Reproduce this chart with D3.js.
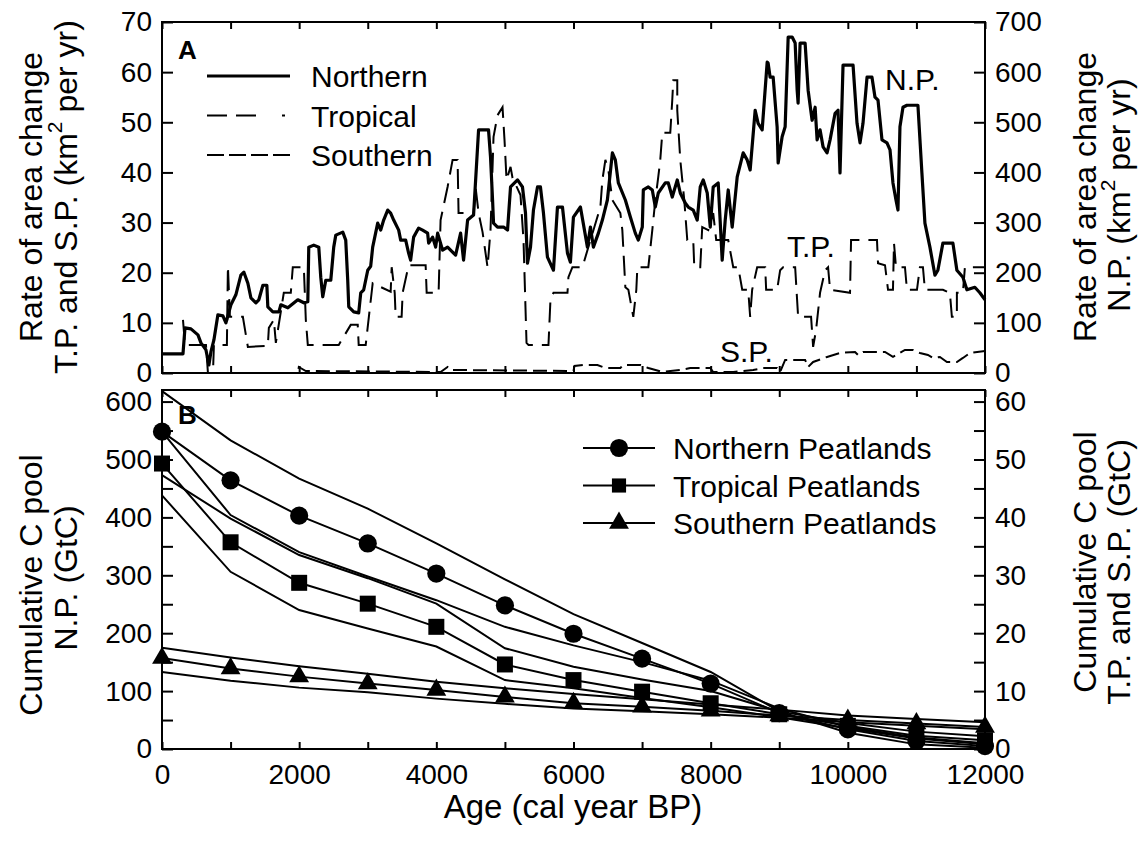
<!DOCTYPE html>
<html>
<head>
<meta charset="utf-8">
<script src="https://cdn.jsdelivr.net/npm/d3@7"></script>
<style>
  body { margin: 0; background: #fff; }
  svg { font-family: "Liberation Sans", Arial, sans-serif; }
  .tick text { font-size: 28px; fill: #000; }
  .tick line { stroke: #000; stroke-width: 2; }
</style>
</head>
<body>
<svg id="chart" width="1146" height="848"></svg>
<script>
// ---- panel A: rate of area change, [cal yr BP, value] ----
// northern on the right axis (km2 per yr, 0-700)
const northernRate = [
  [0,38],[306,38],[335,90],[422,88],[524,76],[568,60],[641,46],[684,16],[713,42],[757,66],
  [815,116],[888,114],[932,100],[1005,136],[1077,156],[1150,195],[1194,201],[1252,179],[1296,150],[1369,140],
  [1412,146],[1471,175],[1529,175],[1543,132],[1616,122],[1704,122],[1733,136],[1835,130],[1980,146],[2068,140],
  [2126,142],[2140,251],[2213,255],[2286,251],[2315,191],[2344,152],[2388,185],[2461,185],[2504,251],[2534,275],
  [2636,281],[2679,265],[2708,185],[2723,132],[2796,122],[2868,120],[2898,160],[2941,166],[3000,205],[3043,213],
  [3072,251],[3145,299],[3189,285],[3232,305],[3291,325],[3334,319],[3378,305],[3451,285],[3480,265],[3553,265],
  [3596,239],[3625,225],[3669,271],[3742,289],[3800,285],[3873,279],[3888,259],[3946,271],[3990,251],[4019,279],
  [4091,245],[4164,251],[4281,235],[4354,279],[4397,225],[4456,305],[4543,315],[4616,485],[4761,485],[4790,431],
  [4820,345],[4834,299],[4892,291],[4980,291],[5038,285],[5082,371],[5184,385],[5256,371],[5300,319],[5329,219],
  [5373,251],[5416,325],[5475,371],[5518,371],[5562,319],[5620,231],[5708,205],[5766,331],[5839,331],[5912,239],
  [5955,221],[5999,311],[6101,331],[6203,251],[6247,291],[6290,251],[6363,279],[6421,305],[6494,345],[6567,439],
  [6610,425],[6654,379],[6756,345],[6829,311],[6901,279],[6945,265],[7003,291],[7018,365],[7091,371],[7149,365],
  [7193,331],[7236,359],[7338,379],[7382,379],[7440,351],[7513,385],[7557,359],[7629,339],[7673,331],[7746,325],
  [7804,305],[7848,371],[7892,385],[7950,359],[7994,291],[8037,371],[8110,379],[8168,225],[8212,305],[8256,365],
  [8314,291],[8387,391],[8474,439],[8532,425],[8576,405],[8649,524],[8692,498],[8751,485],[8824,620],[8838,618],
  [8867,590],[8911,590],[8969,491],[8984,419],[9042,471],[9086,491],[9130,670],[9188,670],[9232,658],[9261,564],
  [9275,538],[9304,658],[9377,658],[9421,564],[9479,504],[9523,530],[9552,465],[9595,485],[9639,451],[9697,439],
  [9741,465],[9814,518],[9857,524],[9886,399],[9930,614],[10076,614],[10134,498],[10178,459],[10221,498],[10280,590],
  [10352,590],[10396,550],[10440,544],[10498,465],[10571,459],[10615,445],[10658,379],[10702,345],[10731,325],[10760,491],
  [10804,530],[10862,534],[11022,534],[11080,399],[11124,299],[11197,251],[11270,195],[11313,205],[11386,259],[11532,259],
  [11590,205],[11678,191],[11736,166],[11852,171],[11925,160],[12000,146]
];
// tropical and southern on the left axis (km2 per yr, 0-70)
const tropicalRate = [
  [306,10.6],[335,5.6],[641,5.6],[670,0],[743,0],[757,5.6],[946,5.6],[961,21.3],[990,11.2],[1179,11.2],
  [1252,5.2],[1543,5.4],[1558,9.0],[1631,10.6],[1660,6.0],[1776,16.0],[1878,16.0],[1907,21.1],[2068,21.1],[2097,10.6],
  [2126,5.6],[2577,5.6],[2752,9.6],[2854,9.6],[2868,5.6],[2970,5.6],[3072,17.9],[3334,16.2],[3349,21.1],[3393,16.0],
  [3407,11.2],[3494,11.2],[3509,16.0],[3596,21.5],[3844,21.5],[3859,16.0],[4033,16.0],[4062,30.5],[4164,37.1],[4237,42.5],
  [4310,42.5],[4324,31.9],[4543,31.9],[4572,37.1],[4616,31.9],[4674,28.1],[4747,21.1],[4790,28.5],[4834,47.1],[4892,51.4],
  [4965,53.0],[4994,46.5],[5024,38.5],[5082,41.1],[5111,38.9],[5227,35.5],[5271,26.5],[5315,6.0],[5344,5.6],[5635,5.6],
  [5664,14.6],[5708,16.0],[5912,16.0],[5926,19.1],[5984,21.1],[6130,21.1],[6247,26.5],[6392,33.1],[6421,38.5],[6465,42.5],
  [6508,40.5],[6567,34.5],[6683,31.9],[6712,28.5],[6756,17.1],[6800,16.6],[6872,11.2],[6916,16.6],[6931,21.1],[7091,21.1],
  [7149,28.5],[7193,34.5],[7236,39.1],[7265,42.5],[7295,47.9],[7411,47.9],[7440,54.4],[7455,58.4],[7513,58.4],[7513,52.4],
  [7557,42.5],[7615,34.5],[7659,26.5],[7746,26.5],[7761,21.1],[7848,21.1],[7877,29.1],[7965,28.5],[8037,31.9],[8081,26.5],
  [8256,26.5],[8329,21.1],[8402,21.1],[8460,16.6],[8547,16.6],[8576,11.2],[8605,16.6],[8678,21.1],[8795,21.1],[8809,16.6],
  [8969,16.6],[9013,20.5],[9057,21.1],[9232,21.1],[9275,11.2],[9464,11.2],[9494,5.2],[9537,8.6],[9595,16.0],[9668,20.5],
  [9712,21.1],[9741,16.6],[10032,16.0],[10047,26.5],[10425,26.5],[10440,21.9],[10542,21.5],[10586,16.6],[10658,16.6],[10673,25.9],
  [10702,21.1],[10833,21.1],[10862,16.6],[11008,16.6],[11051,21.1],[11095,21.1],[11124,16.6],[11386,16.6],[11488,16.0],[11517,11.2],
  [11590,11.2],[11590,16.0],[11678,16.0],[11707,21.1],[12000,21.1]
];
const southernRate = [
  [0,0],[1980,0],[1995,1.2],[2097,0.4],[4062,0.2],[4164,1.2],[4208,0.6],[6000,0.4],[6014,1.4],[6145,1.6],
  [6349,1.6],[6465,1.0],[6683,1.0],[6727,1.6],[6975,1.6],[7091,1.0],[7295,0.2],[7557,0.6],[7702,1.0],[7994,1.0],
  [8037,0.2],[8329,0.2],[8620,0.6],[8765,1.0],[8969,1.0],[9013,0.2],[9086,2.6],[9377,2.6],[9421,1.2],[9494,2.2],
  [9697,3.2],[9886,4.0],[10105,4.2],[10148,3.6],[10221,4.2],[10542,4.2],[10658,3.2],[10833,4.6],[10949,4.6],[11051,4.0],
  [11168,3.6],[11241,3.0],[11343,3.2],[11445,2.2],[11590,2.2],[11678,3.0],[11780,4.0],[12000,4.4]
];

// ---- panel B: cumulative C pool ----
const poolYears = [0,1000,2000,3000,4000,5000,6000,7000,8000,9000,10000,11000,12000];
// northern, GtC, left axis
const northernPool      = [548,464,403,355,303,248,199,156,113,62,34,14,5];
const northernPoolUpper = [618,533,467,415,355,293,233,183,133,65,28,8,2];
const northernPoolLower = [548,404,340,298,257,211,179,150,118,70,38,20,10];
// tropical and southern, GtC, right axis
const tropicalPool      = [49.3,35.7,28.7,25.1,21.1,14.6,11.9,9.9,7.9,6.0,4.0,2.3,1.5];
const tropicalPoolUpper = [47.3,39.8,33.5,29.5,25.1,17.4,14.2,12.0,10.0,6.5,4.5,3.0,2.2];
const tropicalPoolLower = [43.8,30.6,24.0,20.8,17.7,11.9,10.5,8.8,7.2,5.5,3.6,1.8,0.8];
const southernPool      = [15.7,13.9,12.5,11.3,10.2,9.0,7.9,7.3,6.6,5.8,5.0,4.4,3.8];
const southernPoolUpper = [17.5,15.8,14.3,13.0,11.6,10.5,9.5,8.6,7.7,6.8,5.8,5.2,4.6];
const southernPoolLower = [13.3,11.8,10.6,9.8,8.7,7.8,7.0,6.5,6.0,5.4,4.6,4.0,3.4];

const yearTicks = [0,1000,2000,3000,4000,5000,6000,7000,8000,9000,10000,11000,12000];
const rateTicks = [0,10,20,30,40,50,60,70];
const poolTicks = [0,50,100,150,200,250,300,350,400,450,500,550,600];

const svg = d3.select('#chart');
const left = 162, right = 985;
const panelA = {top: 22, bottom: 373};
const panelB = {top: 390, bottom: 749};

const x = d3.scaleLinear().domain([0, 12000]).range([left, right]);
const yRateL = d3.scaleLinear().domain([0, 70]).range([panelA.bottom, panelA.top]);
const yRateR = d3.scaleLinear().domain([0, 700]).range([panelA.bottom, panelA.top]);
const yPoolL = d3.scaleLinear().domain([0, 620]).range([panelB.bottom, panelB.top]);
const yPoolR = d3.scaleLinear().domain([0, 62]).range([panelB.bottom, panelB.top]);

function axes(p, yL, yR, leftTicks, rightTicks, leftFmt, rightFmt, xLabels) {
  // bottom
  svg.append('g').attr('transform', `translate(0,${p.bottom})`)
    .call(d3.axisBottom(x).tickValues(yearTicks).tickSizeInner(-7).tickSizeOuter(0).tickPadding(15)
      .tickFormat(d => xLabels && d % 2000 === 0 ? d : ''))
    .call(g => g.select('.domain').remove());
  // top
  svg.append('g').attr('transform', `translate(0,${p.top})`)
    .call(d3.axisTop(x).tickValues(yearTicks).tickSizeInner(-7).tickSizeOuter(0).tickFormat(''))
    .call(g => g.select('.domain').remove());
  svg.append('g').attr('transform', `translate(${left},0)`)
    .call(d3.axisLeft(yL).tickValues(leftTicks).tickSizeInner(-11).tickSizeOuter(0).tickPadding(10).tickFormat(leftFmt))
    .call(g => g.select('.domain').remove());
  svg.append('g').attr('transform', `translate(${right},0)`)
    .call(d3.axisRight(yR).tickValues(rightTicks).tickSizeInner(-11).tickSizeOuter(0).tickPadding(10).tickFormat(rightFmt))
    .call(g => g.select('.domain').remove());
  svg.append('rect')
    .attr('x', left).attr('y', p.top)
    .attr('width', right - left).attr('height', p.bottom - p.top)
    .attr('fill', 'none').attr('stroke', '#000').attr('stroke-width', 2);
}

axes(panelA, yRateL, yRateR, rateTicks, rateTicks.map(d => d * 10), d => d, d => d, false);
axes(panelB, yPoolL, yPoolR, poolTicks, poolTicks.map(d => d / 10),
  d => d % 100 === 0 ? d : '', d => d % 10 === 0 ? d : '', true);

// ---- panel A lines ----
const lineN = d3.line().x(d => x(d[0])).y(d => yRateR(d[1]));
const lineTS = d3.line().x(d => x(d[0])).y(d => yRateL(d[1]));

svg.append('path').datum(southernRate).attr('d', lineTS)
  .attr('fill', 'none').attr('stroke', '#000').attr('stroke-width', 2)
  .attr('stroke-dasharray', '14,6');
svg.append('path').datum(tropicalRate).attr('d', lineTS)
  .attr('fill', 'none').attr('stroke', '#000').attr('stroke-width', 2)
  .attr('stroke-dasharray', '20,9');
svg.append('path').datum(northernRate).attr('d', lineN)
  .attr('fill', 'none').attr('stroke', '#000').attr('stroke-width', 3.2)
  .attr('stroke-linejoin', 'round');

// panel A legend
const legA = [
  {name: 'Northern', dash: null, w: 3.2},
  {name: 'Tropical', dash: '20,9,20,26,3,200', w: 2},
  {name: 'Southern', dash: '17,5,17,5,17,5,17,6,3,200', w: 2}
];
legA.forEach((d, i) => {
  const yy = 76 + i * 39.5;
  svg.append('line').attr('x1', 207).attr('x2', 290).attr('y1', yy).attr('y2', yy)
    .attr('stroke', '#000').attr('stroke-width', d.w).attr('stroke-dasharray', d.dash);
  svg.append('text').attr('x', 311).attr('y', yy + 11).attr('font-size', 30).text(d.name);
});

svg.append('text').attr('x', 178).attr('y', 59).attr('font-size', 26).attr('font-weight', 'bold').text('A');
svg.append('text').attr('x', 885).attr('y', 90).attr('font-size', 30).text('N.P.');
svg.append('text').attr('x', 787).attr('y', 257).attr('font-size', 30).text('T.P.');
svg.append('text').attr('x', 720).attr('y', 362).attr('font-size', 30).text('S.P.');

// ---- panel B lines ----
const lineL = d3.line().x((d, i) => x(poolYears[i])).y(d => yPoolL(d));
const lineR = d3.line().x((d, i) => x(poolYears[i])).y(d => yPoolR(d));

const poolSeries = [
  {vals: northernPoolUpper, line: lineL},
  {vals: northernPoolLower, line: lineL},
  {vals: tropicalPoolUpper, line: lineR},
  {vals: tropicalPoolLower, line: lineR},
  {vals: southernPoolUpper, line: lineR},
  {vals: southernPoolLower, line: lineR},
  {vals: southernPool, line: lineR, sym: d3.symbolTriangle, size: 170, scale: yPoolR},
  {vals: tropicalPool, line: lineR, sym: d3.symbolSquare, size: 256, scale: yPoolR},
  {vals: northernPool, line: lineL, sym: d3.symbolCircle, size: 260, scale: yPoolL}
];

poolSeries.forEach(s => {
  svg.append('path').datum(s.vals).attr('d', s.line)
    .attr('fill', 'none').attr('stroke', '#000').attr('stroke-width', 2);
});
poolSeries.filter(s => s.sym).forEach(s => {
  svg.append('g').selectAll('path')
    .data(s.vals)
    .join('path')
    .attr('transform', (d, i) => `translate(${x(poolYears[i])},${s.scale(d)})`)
    .attr('d', d3.symbol(s.sym, s.size))
    .attr('fill', '#000');
});

// panel B legend
const legB = [
  {name: 'Northern Peatlands', sym: d3.symbolCircle, size: 260},
  {name: 'Tropical Peatlands', sym: d3.symbolSquare, size: 200},
  {name: 'Southern Peatlands', sym: d3.symbolTriangle, size: 170}
];
legB.forEach((d, i) => {
  const yy = 448 + i * 37.5;
  svg.append('line').attr('x1', 583).attr('x2', 655).attr('y1', yy).attr('y2', yy)
    .attr('stroke', '#000').attr('stroke-width', 2);
  svg.append('path').attr('transform', `translate(619,${yy})`)
    .attr('d', d3.symbol(d.sym, d.size)).attr('fill', '#000');
  svg.append('text').attr('x', 673).attr('y', yy + 11).attr('font-size', 30).text(d.name);
});
svg.append('text').attr('x', 178).attr('y', 424).attr('font-size', 26).attr('font-weight', 'bold').text('B');

// ---- axis titles ----
function vtitle(cx, cy, parts) {
  const t = svg.append('text')
    .attr('transform', `translate(${cx},${cy}) rotate(-90)`)
    .attr('text-anchor', 'middle').attr('dominant-baseline', 'central')
    .attr('font-size', 32);
  parts.forEach(p => {
    if (p.sup) t.append('tspan').attr('font-size', 21).attr('dy', -12).text(p.t);
    else t.append('tspan').attr('dy', p.after ? 12 : 0).text(p.t);
  });
}
vtitle(31, 197, [{t: 'Rate of area change'}]);
vtitle(66, 197, [{t: 'T.P. and S.P. (km'}, {t: '2', sup: true}, {t: ' per yr)', after: true}]);
vtitle(1085, 197, [{t: 'Rate of area change'}]);
vtitle(1119, 195, [{t: 'N.P. (km'}, {t: '2', sup: true}, {t: ' per yr)', after: true}]);
vtitle(31, 585, [{t: 'Cumulative C pool'}]);
vtitle(66, 578, [{t: 'N.P. (GtC)'}]);
vtitle(1085, 562, [{t: 'Cumulative C pool'}]);
vtitle(1119, 572, [{t: 'T.P. and S.P. (GtC)'}]);

svg.append('text').attr('x', 573).attr('y', 818).attr('text-anchor', 'middle')
  .attr('font-size', 33).text('Age (cal year BP)');
</script>
</body>
</html>
